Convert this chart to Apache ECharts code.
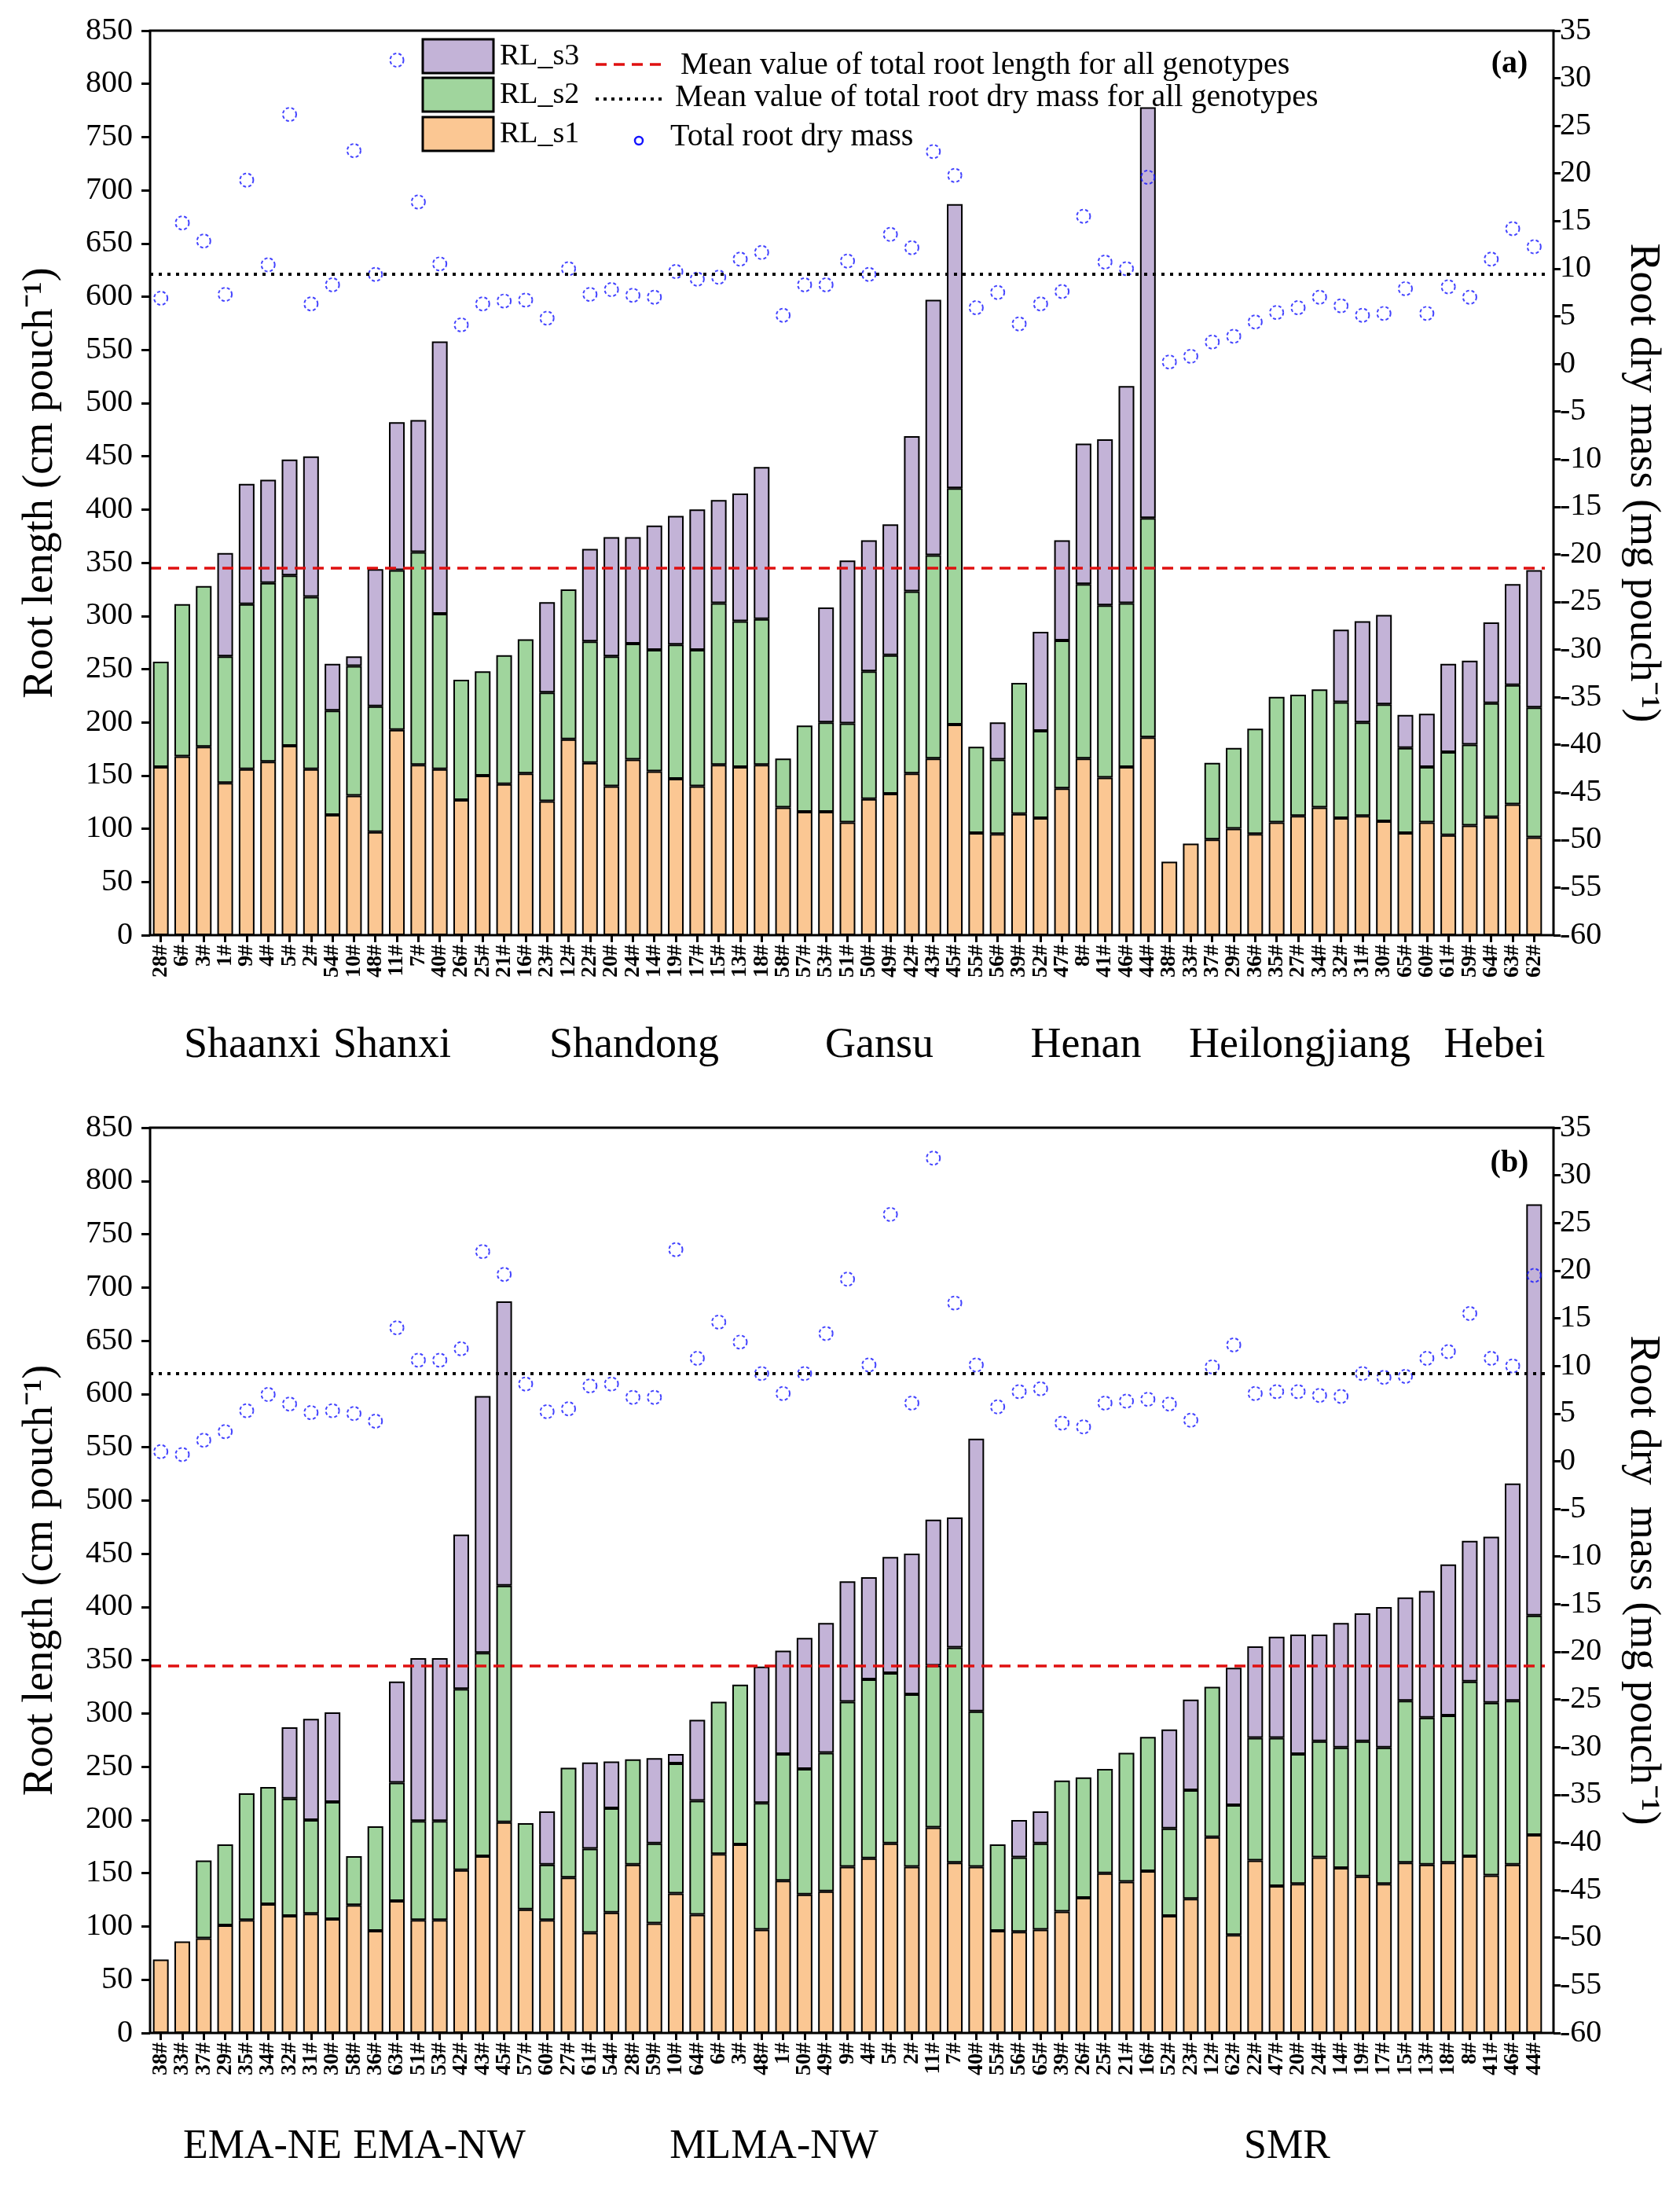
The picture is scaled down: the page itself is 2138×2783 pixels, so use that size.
<!DOCTYPE html>
<html><head><meta charset="utf-8">
<script src="https://cdn.jsdelivr.net/npm/echarts@6/dist/echarts.min.js"></script>
<style>html,body{margin:0;padding:0;background:#fff}#c{width:2138px;height:2783px}</style>
</head><body><div id="c"></div>
<script>
// ---------- Panel (a) ----------
const catsA = ['28','6','3','1','9','4','5','2','54','10','48','11','7','40','26','25','21','16','23','12','22','20','24','14','19','17','15','13','18','58','57','53','51','50','49','42','43','45','55','56','39','52','47','8','41','46','44','38','33','37','29','36','35','27','34','32','31','30','65','60','61','59','64','63','62'];
const rlS1A = [158,168,177,143,156,163,178,156,113,131,97,193,160,156,127,150,142,152,126,184,162,140,165,154,147,140,160,158,160,120,116,116,106,128,133,152,166,198,96,95,114,110,138,166,148,158,186,69,86,90,100,95,106,112,120,110,112,107,96,106,94,103,111,123,92];
const rlS2A = [99,143,151,119,155,168,160,162,98,122,118,150,200,146,113,98,121,126,102,141,114,122,109,114,126,128,152,137,137,46,81,84,93,120,130,171,191,222,81,70,123,82,139,164,162,154,206,0,0,72,76,99,118,114,111,109,88,110,80,52,78,76,107,112,122];
const rlS3A = [0,0,0,97,113,97,109,132,44,9,129,139,124,256,0,0,0,0,85,0,87,112,100,117,121,132,97,120,143,0,0,108,153,123,123,146,240,267,0,35,0,93,94,132,156,204,386,0,0,0,0,0,0,0,0,68,95,84,31,50,83,79,76,95,129];
const massA = [6.9,14.8,12.9,7.3,19.3,10.4,26.2,6.3,8.3,22.4,9.4,31.9,17.0,10.5,4.1,6.3,6.6,6.7,4.8,10.0,7.3,7.8,7.2,7.0,9.7,8.9,9.1,11.0,11.7,5.1,8.3,8.3,10.8,9.4,13.6,12.2,22.3,19.8,5.9,7.5,4.2,6.3,7.6,15.5,10.7,10.0,19.6,0.2,0.8,2.3,2.9,4.4,5.4,5.9,7.0,6.1,5.1,5.3,7.9,5.3,8.1,7.0,11.0,14.2,12.3];
const groupsA = ['Shaanxi','Shanxi','Shandong','Gansu','Henan','Heilongjiang','Hebei'];

// ---------- Panel (b) ----------
const catsB = ['38','33','37','29','35','34','32','31','30','58','36','63','51','53','42','43','45','57','60','27','61','54','28','59','10','64','6','3','48','1','50','49','9','4','5','2','11','7','40','55','56','65','39','26','25','21','16','52','23','12','62','22','47','20','24','14','19','17','15','13','18','8','41','46','44'];
const rlS1B = [69,86,89,101,106,121,110,112,107,120,96,124,106,106,153,166,198,116,106,146,94,113,158,103,131,111,168,177,97,143,130,133,156,164,178,156,193,160,156,96,95,97,114,127,150,142,152,110,126,184,92,162,138,140,165,155,147,140,160,158,160,166,148,158,186];
const rlS2B = [0,0,73,76,119,110,110,88,110,46,98,111,93,93,170,191,222,81,52,103,79,98,99,75,122,107,143,150,119,119,118,130,155,168,160,162,152,202,146,81,70,81,123,113,98,121,126,82,102,141,122,115,139,122,109,113,127,128,152,138,138,164,162,154,206];
const rlS3B = [0,0,0,0,0,0,67,95,84,0,0,95,153,153,145,241,267,0,50,0,81,44,0,80,9,76,0,0,128,97,123,122,113,96,109,132,137,122,256,0,35,30,0,0,0,0,0,93,85,0,129,86,95,112,100,117,120,132,97,119,142,132,156,204,386];
const massB = [1.0,0.7,2.2,3.1,5.3,7.0,6.0,5.1,5.3,5.0,4.2,14.0,10.6,10.6,11.8,22.0,19.6,8.1,5.2,5.5,7.9,8.1,6.7,6.7,22.2,10.8,14.6,12.5,9.2,7.1,9.2,13.4,19.1,10.1,25.9,6.1,31.8,16.6,10.1,5.7,7.3,7.6,4.0,3.6,6.1,6.3,6.5,6.0,4.3,9.9,12.2,7.1,7.3,7.3,6.9,6.8,9.2,8.8,8.9,10.8,11.5,15.5,10.8,10.0,19.5];
const groupsB = ['EMA-NE','EMA-NW','MLMA-NW','SMR'];

// mean lines
const meanRootLength = 345;
const meanDryMassA = 9.4;
const meanDryMassB = 9.2;

// axis ticks
const leftAxis = {min: 0, max: 850, interval: 50};
const rightAxis = {min: -60, max: 35, interval: 5};

const FONT = 'Liberation Serif';
const C_S1 = '#FBC793', C_S2 = '#A0D59D', C_S3 = '#C3B3D7', C_DOT = '#1414ff';

const panels = [
  {cats: catsA, s1: rlS1A, s2: rlS2A, s3: rlS3A, mass: massA, mean2: meanDryMassA, top: 39, height: 1151},
  {cats: catsB, s1: rlS1B, s2: rlS2B, s3: rlS3B, mass: massB, mean2: meanDryMassB, top: 1435, height: 1152}
];
const GL = 191, GW = 1775, FRAME_R = 1977;

const grids = [], xAxes = [], yAxes = [], series = [];
const nz = v => (v === 0 ? '-' : v);
panels.forEach((p, i) => {
  grids.push({left: GL, top: p.top, width: GW, height: p.height, containLabel: false});
  xAxes.push({
    type: 'category', gridIndex: i, data: p.cats.map(c => c + '#'),
    axisLine: {show: false},
    axisTick: {show: true, alignWithLabel: true, length: 9, lineStyle: {color: '#000', width: 3}},
    axisLabel: {rotate: 90, interval: 0, margin: 12, fontFamily: FONT, fontWeight: 'bold', fontSize: 28, color: '#000'},
    splitLine: {show: false}
  });
  yAxes.push({
    type: 'value', gridIndex: i, position: 'left', min: leftAxis.min, max: leftAxis.max, interval: leftAxis.interval,
    axisLine: {show: false}, splitLine: {show: false},
    axisTick: {show: true, length: 11, lineStyle: {color: '#000', width: 3}},
    axisLabel: {fontFamily: FONT, fontSize: 40, color: '#000', margin: 22},
    name: 'Root length (cm pouch⁻¹)', nameLocation: 'middle', nameGap: 112,
    nameTextStyle: {fontFamily: FONT, fontSize: 54, color: '#000'}
  });
  yAxes.push({
    type: 'value', gridIndex: i, position: 'right', offset: FRAME_R - (GL + GW),
    min: rightAxis.min, max: rightAxis.max, interval: rightAxis.interval,
    axisLine: {show: false}, splitLine: {show: false},
    axisTick: {show: true, length: 9, lineStyle: {color: '#000', width: 3}},
    axisLabel: {fontFamily: FONT, fontSize: 40, color: '#000', margin: 8},
    name: i === 0 ? 'Root dry mass (mg pouch⁻¹)' : 'Root dry  mass (mg pouch⁻¹)',
    nameLocation: 'middle', nameGap: 86, nameRotate: -90,
    nameTextStyle: {fontFamily: FONT, fontSize: 54, color: '#000'}
  });
  const barCommon = {type: 'bar', xAxisIndex: i, yAxisIndex: 2 * i, stack: 'rl' + i, barWidth: 20, emphasis: {disabled: true}};
  series.push(Object.assign({}, barCommon, {name: 'RL_s1', data: p.s1.map(nz), itemStyle: {color: C_S1, borderColor: '#000', borderWidth: 2}}));
  series.push(Object.assign({}, barCommon, {name: 'RL_s2', data: p.s2.map(nz), itemStyle: {color: C_S2, borderColor: '#000', borderWidth: 2}}));
  series.push(Object.assign({}, barCommon, {name: 'RL_s3', data: p.s3.map(nz), itemStyle: {color: C_S3, borderColor: '#000', borderWidth: 2},
    markLine: {silent: true, symbol: 'none', label: {show: false}, z: 10,
      lineStyle: {color: '#e01010', type: [14, 9], width: 3.5}, data: [{yAxis: meanRootLength}]}}));
  series.push({type: 'scatter', name: 'Total root dry mass', xAxisIndex: i, yAxisIndex: 2 * i + 1, z: 5,
    data: p.mass, symbol: 'circle', symbolSize: 17,
    itemStyle: {color: 'rgba(0,0,0,0)', borderColor: C_DOT, borderWidth: 2, borderType: [4, 3]},
    markLine: {silent: true, symbol: 'none', label: {show: false}, z: 10,
      lineStyle: {color: '#000', type: [4, 7], width: 4}, data: [{yAxis: p.mean2}]}});
});

// decorations: frames, legend, group labels, panel tags
const graphic = [];
panels.forEach(p => {
  graphic.push({type: 'rect', shape: {x: GL, y: p.top, width: FRAME_R - GL, height: p.height}, z: 20,
    style: {fill: 'none', stroke: '#000', lineWidth: 3}});
});
const txt = (x, y, text, size, extra) => Object.assign({type: 'text', x: x, y: y, z: 30,
  style: Object.assign({text: text, fontFamily: FONT, fontSize: size, fill: '#000', textAlign: 'center', textVerticalAlign: 'middle'}, extra || {})});
// group labels
const gxA = [321, 499, 807, 1119, 1382, 1654, 1902];
groupsA.forEach((g, k) => graphic.push(txt(gxA[k], 1331, g, 54)));
const gxB = [334, 559, 985, 1638];
groupsB.forEach((g, k) => graphic.push(txt(gxB[k], 2732, g, 52)));
graphic.push(txt(1921, 82, '(a)', 40, {fontWeight: 'bold'}));
graphic.push(txt(1921, 1481, '(b)', 40, {fontWeight: 'bold'}));
// legend
[[C_S3, 50, 'RL_s3'], [C_S2, 99, 'RL_s2'], [C_S1, 149, 'RL_s1']].forEach(([c, y, t]) => {
  graphic.push({type: 'rect', z: 30, shape: {x: 538, y: y, width: 90, height: 43}, style: {fill: c, stroke: '#000', lineWidth: 3}});
  graphic.push(txt(636, y + 22, t, 38, {textAlign: 'left'}));
});
graphic.push({type: 'line', z: 30, shape: {x1: 758, y1: 82, x2: 848, y2: 82}, style: {stroke: '#e01010', lineWidth: 3.5, lineDash: [14, 9]}});
graphic.push(txt(866, 83, 'Mean value of total root length for all genotypes', 40, {textAlign: 'left'}));
graphic.push({type: 'line', z: 30, shape: {x1: 758, y1: 126, x2: 848, y2: 126}, style: {stroke: '#000', lineWidth: 4, lineDash: [4, 6]}});
graphic.push(txt(859, 124, 'Mean value of total root dry mass for all genotypes', 40, {textAlign: 'left'}));
graphic.push({type: 'circle', z: 30, shape: {cx: 813, cy: 179, r: 5}, style: {fill: 'none', stroke: C_DOT, lineWidth: 2.5}});
graphic.push(txt(853, 174, 'Total root dry mass', 40, {textAlign: 'left'}));

const chart = echarts.init(document.getElementById('c'), null, {renderer: 'canvas'});
chart.setOption({
  animation: false, backgroundColor: '#fff',
  grid: grids, xAxis: xAxes, yAxis: yAxes, series: series, graphic: graphic
});
</script></body></html>
